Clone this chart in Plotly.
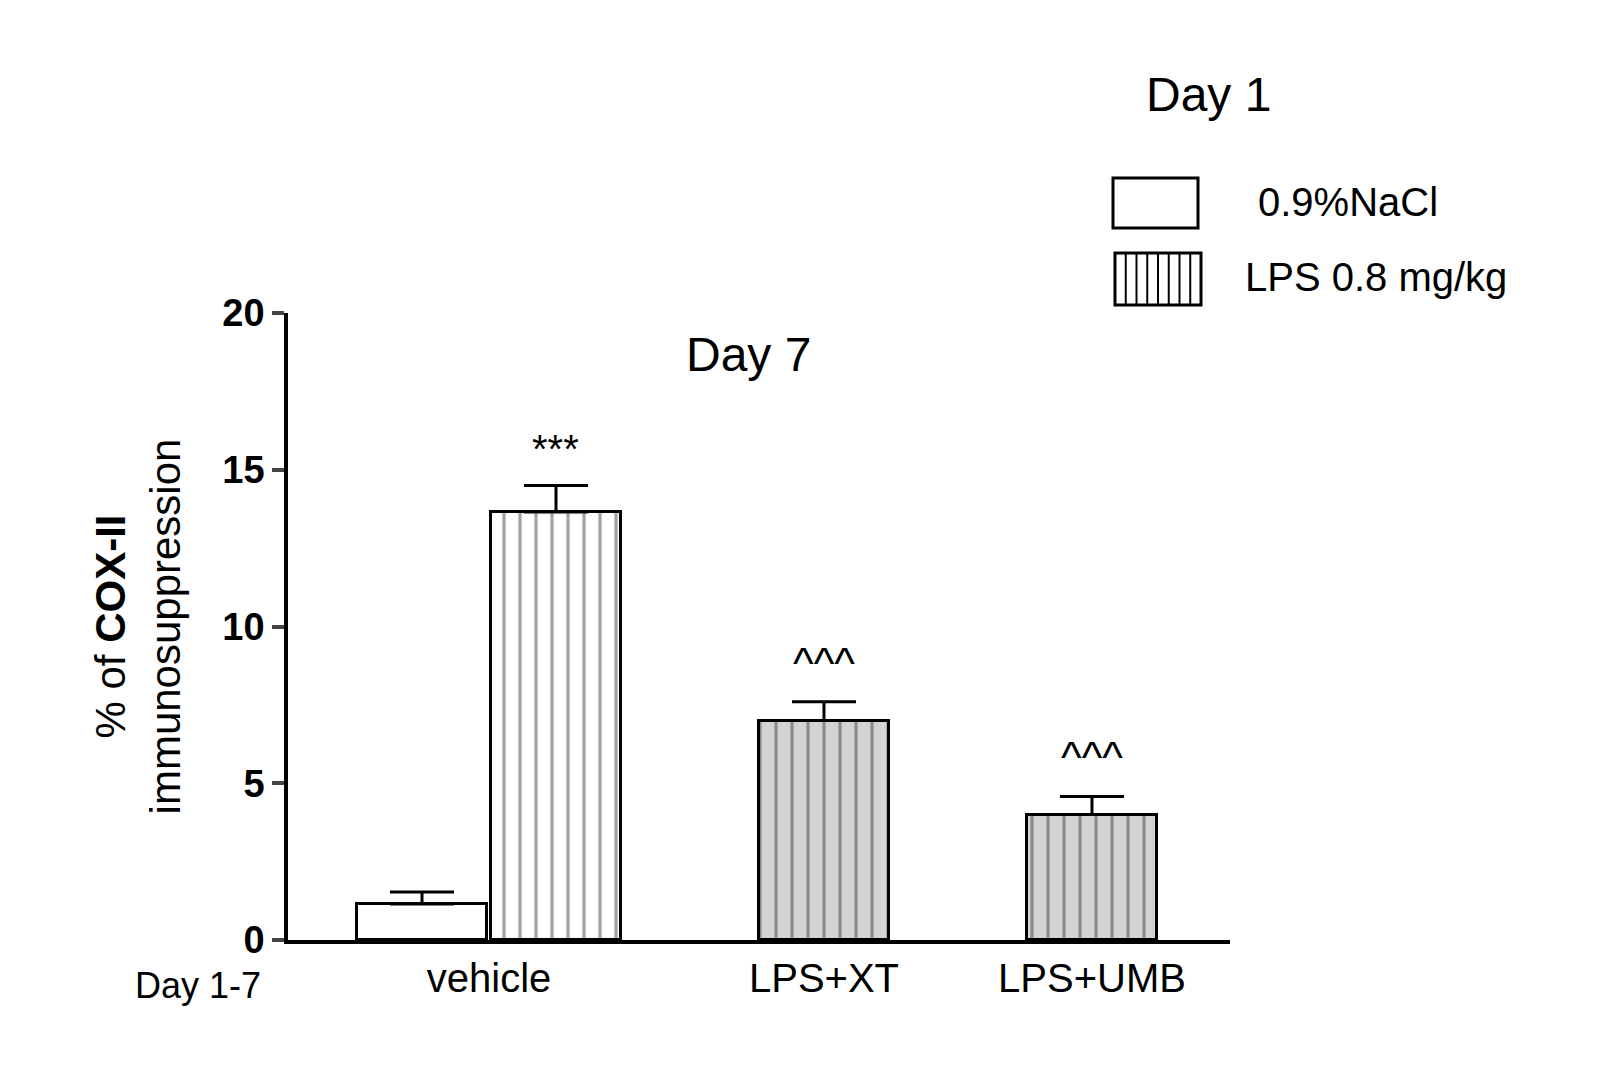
import plotly.graph_objects as go

positions = [0, 1, 3, 5]
values = [1.15, 13.65, 7.0, 4.0]
errors = [0.38, 0.85, 0.6, 0.58]
fills = ["white", "white", "#d3d3d3", "#d3d3d3"]
patterns = ["", "|", "|", "|"]
group_labels = ["vehicle", "LPS+XT", "LPS+UMB"]
group_pos = [0.5, 3, 5]
sig_marks = ["***", "^^^", "^^^"]
sig_idx = [1, 2, 3]

W, H = 1606, 1070
L, R, T, B = 280, 1222, 305, 932
def px(x): return (x - L) / (R - L)
def py(y): return (B - y) / (B - T)

fig = go.Figure()
fig.add_trace(go.Bar(
    x=positions, y=values, width=0.97,
    marker=dict(color=fills, line=dict(color="black", width=3),
                pattern=dict(shape=patterns, fgcolor="black", size=16, solidity=0.2)),
    error_y=dict(type="data", array=errors, arrayminus=[0]*4, color="black", thickness=3, width=32),
    showlegend=False))

font = "Liberation Sans, Arial, sans-serif"
ann = []
for m, i in zip(sig_marks, sig_idx):
    ann.append(dict(x=positions[i], y=values[i] + errors[i], yshift=12, text=m, showarrow=False,
                    yanchor="bottom", font=dict(size=44 if m == "^^^" else 40, color="black")))
ann += [
    dict(xref="paper", yref="paper", x=px(740), y=py(318), text="Day 7", showarrow=False, font=dict(size=48)),
    dict(xref="paper", yref="paper", x=px(1265), y=py(58), text="Day 1", showarrow=False, font=dict(size=48)),
    dict(xref="paper", yref="paper", x=px(1248), y=py(170), text="0.9%NaCl", showarrow=False, xanchor="left", font=dict(size=40)),
    dict(xref="paper", yref="paper", x=px(1235), y=py(245), text="LPS 0.8 mg/kg", showarrow=False, xanchor="left", font=dict(size=40)),
    dict(xref="paper", yref="paper", x=px(125), y=py(1000), text="Day 1-7", showarrow=False, font=dict(size=36)),
]
shapes = [
    dict(type="rect", xref="paper", yref="paper", x0=px(1105), x1=px(1190), y0=py(220), y1=py(170), line=dict(color="black", width=3)),
    dict(type="rect", xref="paper", yref="paper", x0=px(1107), x1=px(1193), y0=py(297), y1=py(245), line=dict(color="black", width=3)),
]
for k in range(1, 8):
    xx = 1107 + k * 86 / 8
    shapes.append(dict(type="line", xref="paper", yref="paper", x0=px(xx), x1=px(xx), y0=py(297), y1=py(245), line=dict(color="black", width=2)))

fig.update_layout(
    width=W, height=H, margin=dict(l=L, r=W - R, t=T, b=H - B),
    plot_bgcolor="white", paper_bgcolor="white", font=dict(family=font, color="black"),
    bargap=0, annotations=ann, shapes=shapes,
    xaxis=dict(range=[-1, 6.03], tickvals=group_pos, ticktext=group_labels, showline=True,
               linecolor="black", linewidth=3.5, ticks="", tickfont=dict(size=40), showgrid=False, zeroline=False),
    yaxis=dict(range=[0, 20], tickvals=[0, 5, 10, 15, 20], showline=True, linecolor="black", linewidth=3.5,
               ticks="outside", ticklen=12, tickwidth=3.5, tickfont=dict(size=38, family=font, weight="bold"),
               showgrid=False, zeroline=False,
               title=dict(text="% of <b>COX-II</b><br>immunosuppression", font=dict(size=42), standoff=30)),
)
fig.write_html("out.html")
